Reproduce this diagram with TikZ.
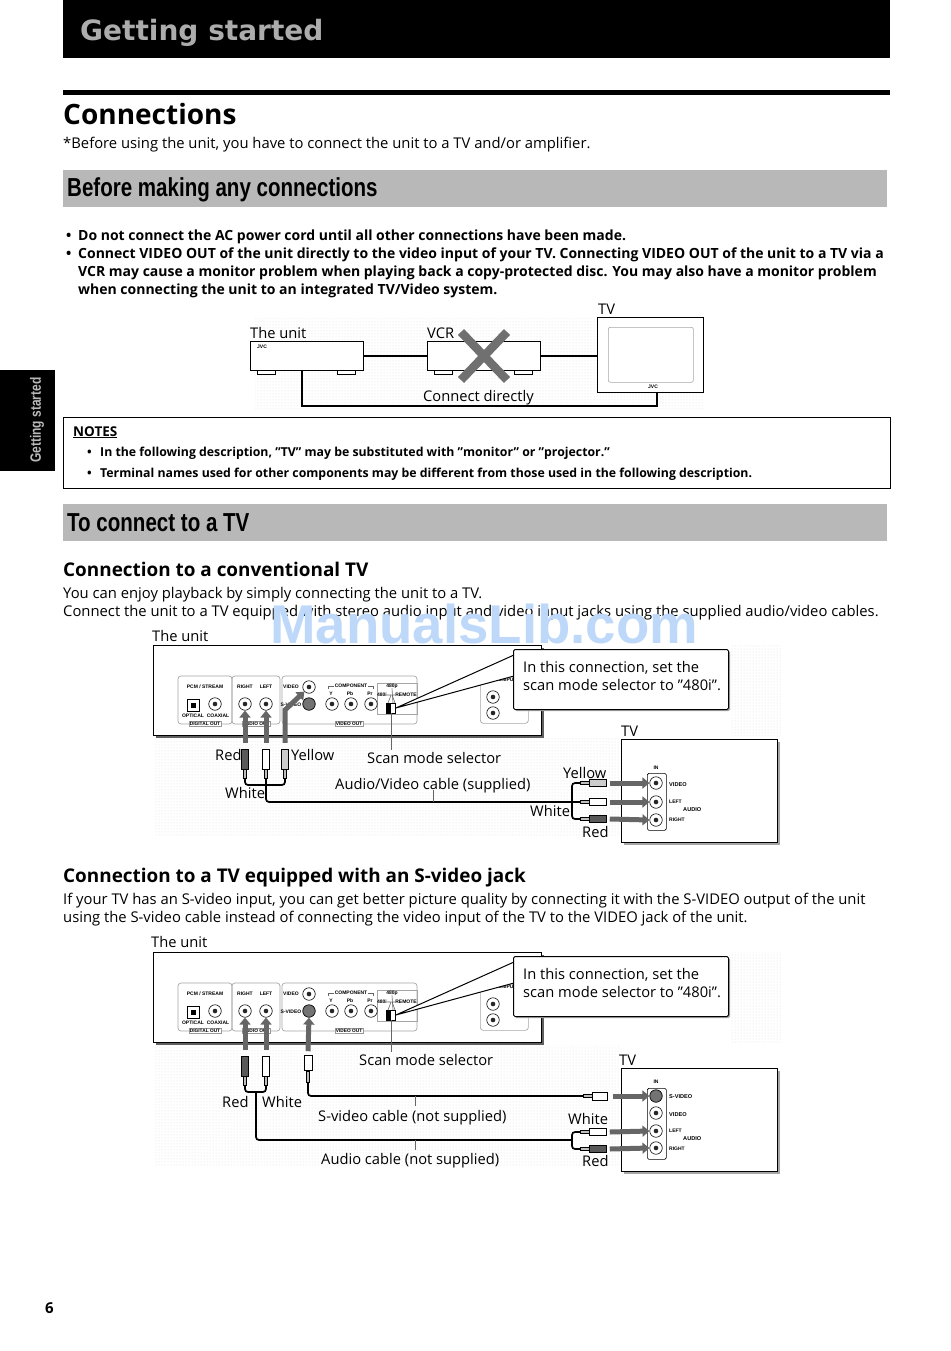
\documentclass[tikz,border=0pt]{standalone}
\usepackage{fontspec}
\setmainfont{Open Sans}
\newfontfamily\condfont{Liberation Sans}
\newfontfamily\widefont{DejaVu Sans}
\usetikzlibrary{positioning,calc,shadows,patterns,arrows.meta}

\definecolor{bandgray}{gray}{0.72}
\definecolor{arrowgray}{gray}{0.40}
\definecolor{markblue}{RGB}{190,216,250}

\tikzset{
  txt/.style={anchor=west,inner sep=0pt,text height=1em,text depth=0pt,font=\fontsize{14.8}{15}\selectfont},
  lbl/.style={anchor=west,inner sep=0pt,text height=1em,text depth=0pt,font=\fontsize{14.7}{15}\selectfont},
  btxt/.style={anchor=west,inner sep=0pt,text height=1em,text depth=0pt,font=\fontsize{14}{15}\selectfont\bfseries},
  ntxt/.style={anchor=west,inner sep=0pt,text height=1em,text depth=0pt,font=\fontsize{12.3}{14}\selectfont\bfseries},
  head/.style={anchor=west,inner sep=0pt,text height=1em,text depth=0pt,font=\fontsize{18.9}{20}\selectfont\bfseries},
  band/.style={anchor=west,draw=none,fill=bandgray,minimum width=824pt,minimum height=37pt,inner sep=0pt},
  bandtxt/.style={anchor=west,inner sep=0pt,font=\condfont\fontsize{26}{28}\selectfont\bfseries},
  tiny/.style={inner sep=0pt,font=\condfont\fontsize{5}{6}\selectfont\bfseries},
  tvtiny/.style={anchor=west,inner sep=0pt,font=\condfont\fontsize{5.6}{6}\selectfont\bfseries},
  unitbox/.style={draw,line width=1.2pt,fill=white,inner sep=0pt,drop shadow={shadow xshift=2.5pt,shadow yshift=-2.5pt,fill=gray!75!black,opacity=1}},
  tvbox/.style={draw,line width=1.2pt,fill=white,inner sep=0pt,anchor=north west,drop shadow={shadow xshift=2.2pt,shadow yshift=-2.2pt,fill=gray!70,opacity=1}},
  callout/.style={draw,line width=1pt,fill=white,rounded corners=1.5pt,inner sep=0pt,anchor=north west,minimum width=215pt,minimum height=60pt,drop shadow={shadow xshift=1.5pt,shadow yshift=-1.5pt,fill=gray!70,opacity=1}},
  panelbox/.style={draw=gray!70,line width=.7pt,rounded corners=3pt,inner sep=0pt},
  jackring/.style={draw,circle,line width=.6pt,fill=white,minimum size=12.5pt,inner sep=0pt},
  jackpin/.style={circle,fill=black!85,minimum size=4.6pt,inner sep=0pt},
  svideo/.style={draw,circle,line width=.7pt,fill=black!55,minimum size=12.5pt,inner sep=0pt},
  tag/.style={draw=gray!80,line width=.4pt,fill=white,inner sep=.8pt,font=\condfont\fontsize{4.8}{5}\selectfont\bfseries},
  cable/.style={line width=1.7pt,rounded corners=3pt},
  gapline/.style={line width=1.6pt},
  lead/.style={gray!80!black,line width=.6pt},
  feed/.style={arrowgray,line width=5pt,-{Triangle[width=11pt,length=7pt]}},
  plugbody/.style={draw,line width=.5pt,inner sep=0pt,minimum width=7pt,minimum height=20pt},
  plugstem/.style={draw,line width=.4pt,fill=gray!50,inner sep=0pt,minimum width=3pt,minimum height=9pt},
  hplugbody/.style={draw,line width=.5pt,inner sep=0pt,minimum width=17pt,minimum height=7pt},
  hplugstem/.style={draw,line width=.4pt,fill=gray!50,inner sep=0pt,minimum width=9pt,minimum height=3pt},
  halftone/.style={pattern=dots,pattern color=black!14,draw=none},
}

\newcommand{\jack}[3]{%
  \node[jackring] (#1) at (#2,#3) {};
  \node[jackpin] (#1pin) at (#1) {};
}
\newcommand{\plugv}[4]{%
  \node[plugbody,fill=#4] (#1) at (#2,#3) {};
  \node[plugstem,below=0pt of #1] (#1stem) {};
}
\newcommand{\plugh}[4]{%
  \node[hplugbody,fill=#4] (#1) at (#2,#3) {};
  \node[hplugstem,left=0pt of #1] (#1stem) {};
}
\newcommand{\rearpanel}[2]{%
\begin{scope}[shift={(0,#2)}]
\node[unitbox,anchor=north west,minimum width=388pt,minimum height=90pt] (#1unit) at (152.5,645) {};
\node[panelbox,minimum width=54pt,minimum height=48pt] (#1digital) at (205,700) {};
\node[panelbox,minimum width=48pt,minimum height=48pt] (#1audio) at (256,700) {};
\node[panelbox,minimum width=135pt,minimum height=48pt] (#1video) at (349.5,700) {};
\node[panelbox,anchor=north west,minimum width=48pt,minimum height=50pt] (#1extra) at (480,673) {};
\node[draw=gray!70,line width=.6pt,inner sep=0pt,minimum width=40pt,minimum height=31pt] (#1selbox) at (397,698.5) {};
\node[draw,line width=.7pt,inner sep=0pt,minimum size=12pt] (#1optical) at (193,705) {};
\node[fill=black,inner sep=0pt,minimum size=5pt] (#1opticalpin) at (#1optical) {};
\foreach \name/\x/\y in {coax/215/704,right/245/704,left/266/704,vid/309/687,y/332/704,pb/351/704,pr/371/704,exa/493/697,exb/493/713}{
  \jack{#1\name}{\x}{\y}
}
\node[svideo] (#1sv) at (309,704) {};
\node[tiny] (#1pcm) at (205,687) {PCM / STREAM};
\node[tiny] (#1tright) at (245,687) {RIGHT};
\node[tiny] (#1tleft) at (266,687) {LEFT};
\node[tiny] (#1topt) at (193,716) {OPTICAL};
\node[tiny] (#1tcoax) at (218,716) {COAXIAL};
\node[tiny] (#1tvid) at (291,687) {VIDEO};
\node[tiny] (#1tsv) at (291,705) {S-VIDEO};
\node[tiny,fill=white,inner xsep=1pt] (#1tcomp) at (351,686) {COMPONENT};
\node[tiny] (#1ty) at (331,694) {Y};
\node[tiny] (#1tpb) at (350,694) {Pb};
\node[tiny] (#1tpr) at (370,694) {Pr};
\node[tiny] (#1t480p) at (392,686) {480p};
\node[tiny] (#1t480i) at (382,695) {480i};
\node[tiny] (#1tremote) at (406,695) {REMOTE};
\node[tiny] (#1tdv) at (500,680) {DV COMPU};
\node[tag] (#1tagd) at (205,724) {DIGITAL OUT};
\node[tag] (#1taga) at (256,724) {AUDIO OUT};
\node[tag] (#1tagv) at (349,724) {VIDEO OUT};
\node[draw,line width=.7pt,fill=white,inner sep=0pt,minimum width=9pt,minimum height=10pt] (#1switch) at (391,708) {};
\fill (#1switch.north west) rectangle (#1switch.south);
\draw[lead] (#1tcomp.west) -- ++(-5,0) -- ++(0,3);
\draw[lead] (#1tcomp.east) -- ++(5,0) -- ++(0,3);
\draw[lead] (#1t480i.east) -- ++(4,0) -- (388,703);
\draw[lead] (#1t480p.south) -- (393,703);
\draw[lead] (#1tremote.west) -- ++(-3,0) -- (395,703);
\coordinate (#1calltop) at (514,655);
\coordinate (#1callbot) at (514,676);
\draw[line width=1pt,fill=white] (#1switch.east) -- (#1calltop) -- (#1callbot) -- cycle;
\node[callout] (#1call) at (513,649) {};
\node[lbl] (#1callone) at (523,667) {In this connection, set the};
\node[lbl] (#1calltwo) at (523,685) {scan mode selector to "480i".};
\end{scope}
}

\begin{document}
\begin{tikzpicture}[x=1pt,y=-1pt]
\useasboundingbox (0,0) rectangle (950,1351);

\node[anchor=north west,fill=black,inner sep=0pt,minimum width=827pt,minimum height=58pt] (topbar) at (63,0) {};
\node[anchor=west,inner sep=0pt,text=gray!65,font=\widefont\fontsize{28}{30}\selectfont\bfseries] (toptxt) at (80,33) {Getting started};
\node[anchor=west,fill=black,inner sep=0pt,minimum width=827pt,minimum height=5pt] (toprule) at (63,93) {};
\node[anchor=west,inner sep=0pt,font=\fontsize{28}{30}\selectfont\bfseries] (conn) at (63,114) {Connections};
\node[txt] (before) at (63,144) {*Before using the unit, you have to connect the unit to a TV and/or amplifier.};

\node[band] (banda) at (63,188.5) {};
\node[bandtxt] (bandatxt) at (67,190) {\scalebox{.79}[1]{Before making any connections}};

\node[btxt] (ba) at (66,235) {•};
\node[btxt] (la) at (78,235) {Do not connect the AC power cord until all other connections have been made.};
\node[btxt] (bb) at (66,253) {•};
\node[btxt] (lb) at (78,253) {Connect VIDEO OUT of the unit directly to the video input of your TV. Connecting VIDEO OUT of the unit to a TV via a};
\node[btxt] (lc) at (78,271) {VCR may cause a monitor problem when playing back a copy-protected disc. You may also have a monitor problem};
\node[btxt] (ld) at (78,289) {when connecting the unit to an integrated TV/Video system.};

\fill[halftone] (255,318) rectangle (703,410);
\node[draw,line width=.9pt,fill=white,anchor=north west,inner sep=0pt,minimum width=113pt,minimum height=29pt] (vunit) at (250,341) {};
\node[draw,line width=.9pt,fill=white,anchor=north west,inner sep=0pt,minimum width=113pt,minimum height=29pt] (vvcr) at (427,341) {};
\node[draw,line width=.9pt,fill=white,anchor=north west,inner sep=0pt,minimum width=106pt,minimum height=75pt] (vtv) at (597,317) {};
\node[draw=gray!70,line width=.6pt,rounded corners=2pt,inner sep=0pt,anchor=north west,minimum width=85pt,minimum height=55pt] (vscreen) at (608,327) {};
\foreach \name/\x in {fa/266,fb/346,fc/443,fd/523}{
  \node[draw,line width=.6pt,fill=white,inner sep=0pt,minimum width=18pt,minimum height=4pt] (\name) at (\x,372) {};
}
\node[tiny] (jvca) at (262,347) {JVC};
\node[tiny] (jvcb) at (653,386.5) {JVC};
\draw[gapline] (vunit) -- (vvcr);
\draw[gapline] (vvcr) -- (vvcr -| vtv.west);
\coordinate (xa) at (461,332);
\coordinate (xb) at (507,380);
\coordinate (xc) at (507,332);
\coordinate (xd) at (461,380);
\draw[gray!60!black!80,line width=8.5pt] (xa) -- (xb);
\draw[gray!60!black!80,line width=8.5pt] (xc) -- (xd);
\draw[cable,rounded corners=0pt] (vunit.south -| 302,370) -- (302,406) -- (657,406) -- (657,392);
\node[lbl] (lunit) at (250,333) {The unit};
\node[lbl] (lvcr) at (427,333) {VCR};
\node[lbl] (ltv) at (598,309) {TV};
\node[lbl] (ldirect) at (423,396) {Connect directly};

\node[draw,line width=.8pt,anchor=north west,inner sep=0pt,minimum width=827pt,minimum height=71pt] (notes) at (63,417) {};
\node[ntxt,font=\fontsize{13.5}{14}\selectfont\bfseries] (ntitle) at (73,431) {\underline{NOTES}};
\node[ntxt] (nba) at (87,451) {•};
\node[ntxt] (nla) at (100,451) {In the following description, "TV" may be substituted with "monitor" or "projector."};
\node[ntxt] (nbb) at (87,472) {•};
\node[ntxt] (nlb) at (100,472) {Terminal names used for other components may be different from those used in the following description.};

\fill[black] (0,370) rectangle (55,471);
\node[inner sep=0pt,rotate=90,text=gray!55,font=\condfont\fontsize{15}{16}\selectfont\bfseries] (sidetxt) at (37,420) {\scalebox{.8}[1]{Getting started}};

\node[band] (bandb) at (63,522.5) {};
\node[bandtxt] (bandbtxt) at (67,523) {\scalebox{.79}[1]{To connect to a TV}};

\node[head] (heada) at (63,571) {Connection to a conventional TV};
\node[txt] (paa) at (63,593) {You can enjoy playback by simply connecting the unit to a TV.};
\node[txt] (pab) at (63,611) {Connect the unit to a TV equipped with stereo audio input and video input jacks using the supplied audio/video cables.};

\fill[halftone] (155,738) rectangle (620,835);
\fill[halftone] (730,645) rectangle (782,735);
\rearpanel{a}{0}
\node[lbl] (aunitlbl) at (152,636) {The unit};
\node[tvbox,minimum width=156pt,minimum height=103pt] (atv) at (621,739) {};
\node[lbl] (atvlbl) at (621,731) {TV};
\node[draw,line width=.7pt,fill=white,rounded corners=1.5pt,anchor=north west,inner sep=0pt,minimum width=19pt,minimum height=57pt] (ain) at (647,773) {};
\node[tiny] (aintxt) at (656,768) {IN};
\jack{ajv}{656}{783}
\jack{ajl}{656}{802}
\jack{ajr}{656}{820}
\node[tvtiny] (atvv) at (669,785) {VIDEO};
\node[tiny,anchor=west] (atvl) at (669,802) {LEFT};
\node[tvtiny] (atva) at (683,810) {AUDIO};
\node[tiny,anchor=west] (atvr) at (669,820) {RIGHT};

\plugv{ared}{245}{759}{black!65}
\plugv{awhite}{266}{759}{white}
\plugv{ayellow}{285}{759}{gray!40}
\plugh{apy}{598}{783}{gray!40}
\plugh{apw}{598}{802}{white}
\plugh{apr}{598}{819}{black!65}
\draw[cable] (aredstem.south) -- (245,785) -- (285,785) -- (ayellowstem.south);
\draw[cable] (awhitestem.south) -- (266,802) -- (apwstem.west);
\draw[cable] (apystem.west) -- (572,783) -- (572,819) -- (aprstem.west);
\draw[feed] (ared.north) ++(0,-6) -- (aright.south);
\draw[feed] (awhite.north) ++(0,-6) -- (aleft.south);
\draw[feed] (ayellow.north) ++(0,-6) -- (285,710) -- (avid.south west);
\draw[feed] (apy.east) ++(3,0) -- (ajv.west);
\draw[feed] (apw.east) ++(3,0) -- (ajl.west);
\draw[feed] (apr.east) ++(3,0) -- (ajr.west);
\node[lbl] (ar) at (215,755) {Red};
\node[lbl] (ay) at (291,755) {Yellow};
\node[lbl] (ascan) at (367,758) {Scan mode selector};
\node[lbl] (acbl) at (335,784) {Audio/Video cable (supplied)};
\node[lbl] (aw) at (225,793) {White};
\node[lbl] (ayb) at (563,773) {Yellow};
\node[lbl] (awb) at (530,811) {White};
\node[lbl] (arb) at (582,832) {Red};
\draw[lead] (aswitch.south) -- (391,750);
\draw[lead] (433,790) -- (433,802);

\node[head] (headb) at (63,877) {Connection to a TV equipped with an S-video jack};
\node[txt] (pba) at (63,899) {If your TV has an S-video input, you can get better picture quality by connecting it with the S-VIDEO output of the unit};
\node[txt] (pbb) at (63,917) {using the S-video cable instead of connecting the video input of the TV to the VIDEO jack of the unit.};

\fill[halftone] (155,1045) rectangle (620,1165);
\fill[halftone] (730,952) rectangle (782,1042);
\rearpanel{b}{307}
\node[lbl] (bunitlbl) at (151,942) {The unit};
\node[tvbox,minimum width=156pt,minimum height=103pt] (btv) at (621,1068) {};
\node[lbl] (btvlbl) at (619,1060) {TV};
\node[draw,line width=.7pt,fill=white,rounded corners=1.5pt,anchor=north west,inner sep=0pt,minimum width=19pt,minimum height=71pt] (bin) at (647,1088) {};
\node[tiny] (bintxt) at (656,1082) {IN};
\node[svideo] (bjs) at (656,1096) {};
\jack{bjv}{656}{1113}
\jack{bjl}{656}{1131}
\jack{bjr}{656}{1148}
\node[tvtiny] (btvs) at (669,1097) {S-VIDEO};
\node[tvtiny] (btvv) at (669,1115) {VIDEO};
\node[tiny,anchor=west] (btvl) at (669,1131) {LEFT};
\node[tvtiny] (btva) at (683,1139) {AUDIO};
\node[tiny,anchor=west] (btvr) at (669,1149) {RIGHT};

\plugv{bred}{245}{1066}{black!65}
\plugv{bwhite}{266}{1066}{white}
\node[draw,line width=.6pt,fill=white,inner sep=0pt,minimum width=8pt,minimum height=15pt] (bsplug) at (308,1063) {};
\node[plugstem,below=0pt of bsplug,minimum height=11pt] (bsplugstem) {};
\node[draw,line width=.6pt,fill=white,inner sep=0pt,minimum width=15pt,minimum height=8pt] (bhs) at (600,1096) {};
\node[hplugstem,left=0pt of bhs] (bhsstem) {};
\plugh{bpw}{598}{1132}{white}
\plugh{bpr}{598}{1149}{black!65}
\draw[cable] (bredstem.south) -- (245,1092) -- (266,1092) -- (bwhitestem.south);
\draw[cable] (256,1092) -- (256,1140) -- (572,1140);
\draw[cable] (bsplugstem.south) -- (308,1096) -- (bhsstem.west);
\draw[cable] (bpwstem.west) -- (572,1132) -- (572,1149) -- (bprstem.west);
\draw[feed] (bred.north) ++(0,-6) -- (bright.south);
\draw[feed] (bwhite.north) ++(0,-6) -- (bleft.south);
\draw[feed] (bsplug.north) ++(0,-4) -- (bsv.south);
\draw[feed] (bhs.east) ++(5,0) -- (bjs.west);
\draw[feed] (bpw.east) ++(3,0) -- (bjl.west);
\draw[feed] (bpr.east) ++(3,0) -- (bjr.west);
\node[lbl] (br) at (222,1102) {Red};
\node[lbl] (bw) at (262,1102) {White};
\node[lbl] (bscan) at (359,1060) {Scan mode selector};
\node[lbl] (bcbls) at (318,1116) {S-video cable (not supplied)};
\node[lbl] (bcbla) at (321,1159) {Audio cable (not supplied)};
\node[lbl] (bwb) at (568,1119) {White};
\node[lbl] (brb) at (582,1161) {Red};
\draw[lead] (bswitch.south) -- (391,1052);
\draw[lead] (415,1096) -- (415,1106);
\draw[lead] (415,1140) -- (415,1150);

\node[anchor=west,inner sep=0pt,font=\fontsize{15}{16}\selectfont\bfseries] (pageno) at (45,1308) {6};
\node[anchor=west,inner sep=0pt,text=markblue,font=\condfont\fontsize{54.6}{58}\selectfont\bfseries] (watermark) at (270,624) {ManualsLib.com};
\end{tikzpicture}
\end{document}
